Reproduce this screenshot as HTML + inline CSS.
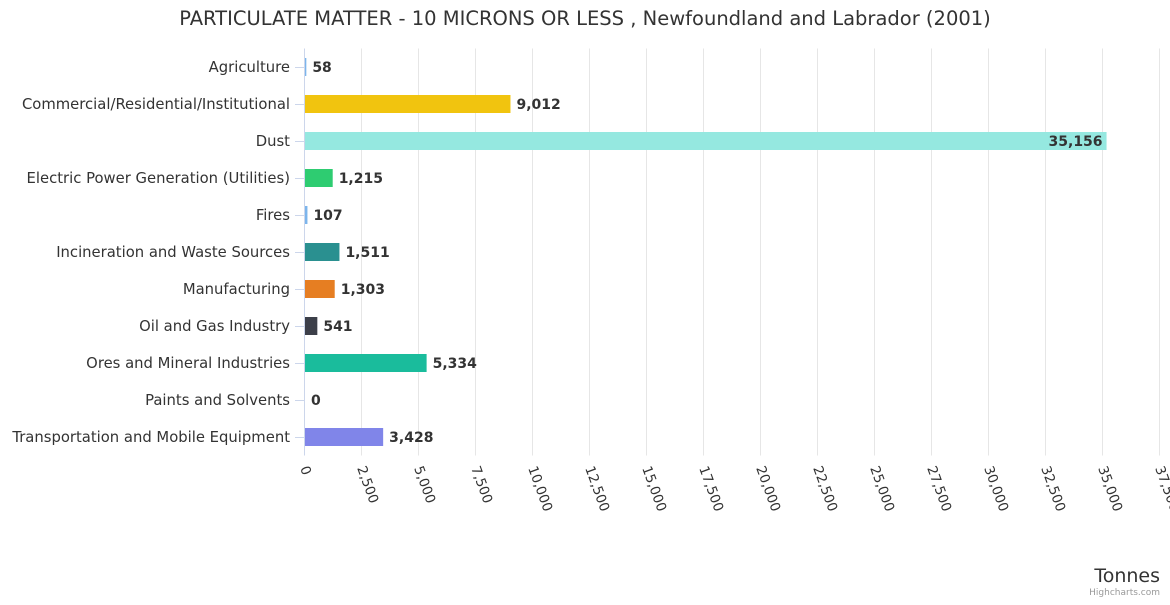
<!DOCTYPE html>
<html><head><meta charset="utf-8"><style>
body{margin:0;background:#fff;font-family:"Liberation Sans","DejaVu Sans",sans-serif}
svg text{font-family:"DejaVu Sans","Liberation Sans",sans-serif}
</style></head><body>
<svg id="c" width="1170" height="600" xmlns="http://www.w3.org/2000/svg">
<text x="585" y="25" text-anchor="middle" font-size="19.5" fill="#333">PARTICULATE MATTER - 10 MICRONS OR LESS , Newfoundland and Labrador (2001)</text>
<g id="grid"></g><g id="bars"></g><g id="labels"></g><g id="xt"></g>
<text x="1160" y="582" text-anchor="end" font-size="19" fill="#333">Tonnes</text>
<text x="1160" y="595" text-anchor="end" font-size="9" fill="#999">Highcharts.com</text>
</svg>
<script>
const categories=["Agriculture","Commercial/Residential/Institutional","Dust","Electric Power Generation (Utilities)","Fires","Incineration and Waste Sources","Manufacturing","Oil and Gas Industry","Ores and Mineral Industries","Paints and Solvents","Transportation and Mobile Equipment"];
const values=[58,9012,35156,1215,107,1511,1303,541,5334,0,3428];
const colors=["#7cb5ec","#f1c40f","#95e8e0","#2ecc71","#7cb5ec","#2a9090","#e67e22","#3c3f49","#1abc9c","#7cb5ec","#8085e9"];
const ticks=[0,2500,5000,7500,10000,12500,15000,17500,20000,22500,25000,27500,30000,32500,35000,37500];
const NS="http://www.w3.org/2000/svg";
const x0=305,pxPer=57/2500,plotTop=48.5,band=37;
const X=v=>x0+v*pxPer, Y=i=>plotTop+band*i+band/2;
const fmt=v=>v.toLocaleString("en-US");
function mk(t,a,p){const e=document.createElementNS(NS,t);for(const k in a)e.setAttribute(k,a[k]);p.appendChild(e);return e;}
const G=document.getElementById("grid"),B=document.getElementById("bars"),L=document.getElementById("labels"),XT=document.getElementById("xt");
ticks.forEach(t=>{
 const gx=Math.round(X(t))-0.5;
 const g=mk("line",{x1:gx,x2:gx,y1:plotTop,y2:plotTop+band*categories.length,stroke:t==0?"#ccd6eb":"#e6e6e6","stroke-width":1},G);
 
 
 const tx=mk("text",{x:X(t)-5,y:468,"font-size":13.5,fill:"#333",transform:`rotate(70 ${X(t)-5} 468)`},XT);
 tx.textContent=fmt(t);
 
 
});
categories.forEach((c,i)=>{
 const y=Y(i);
 const tk=mk("line",{x1:x0-10,x2:x0,y1:Math.round(y)+0.5,y2:Math.round(y)+0.5,stroke:"#ccd6eb"},G);
 
 
 const lt=mk("text",{x:290,y:y+5,"text-anchor":"end","font-size":14.8,fill:"#333"},L);
 lt.textContent=c;
 
 
 const w=Math.max(X(values[i])-x0,values[i]>0?1:0);
 const r=mk("rect",{x:x0,y:y-9,width:w,height:18,fill:colors[i]},B);
 
 
 const inside=X(values[i])+70>1165;
 const v=mk("text",{x:inside?X(values[i])-4:X(values[i])+6,y:y+5,"text-anchor":inside?"end":"start","font-size":14,"font-weight":"bold",fill:"#333"},L);
 v.textContent=fmt(values[i]);
 
 
});
</script>
</body></html>
